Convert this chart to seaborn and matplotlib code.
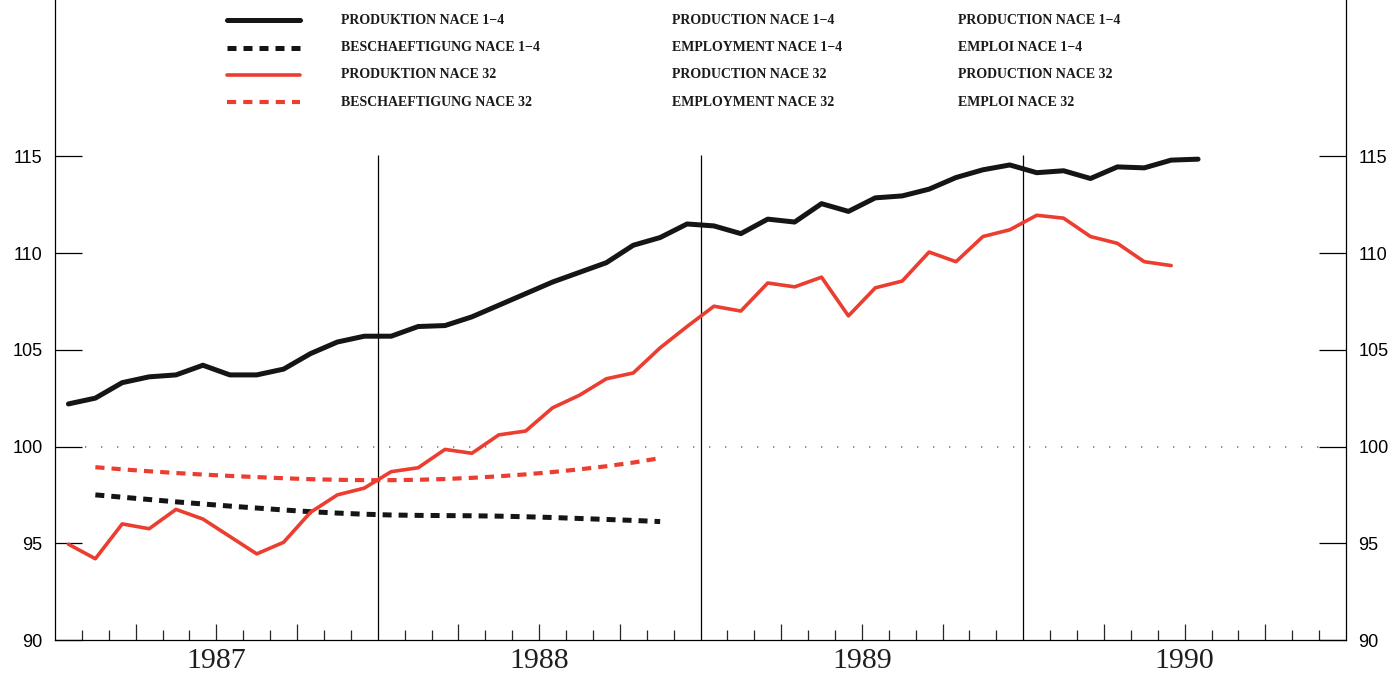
import numpy as np
import matplotlib
matplotlib.use("Agg")
import matplotlib.pyplot as plt
from matplotlib.lines import Line2D
import seaborn as sns

# ---- data: monthly indices, first value = January 1987 ----
years = [1987, 1988, 1989, 1990]

prod_nace14 = [102.2, 102.5, 103.3, 103.6, 103.7, 104.2, 103.7, 103.7, 104.0, 104.8,
               105.4, 105.7, 105.7, 106.2, 106.25, 106.7, 107.3, 107.9, 108.5, 109.0,
               109.5, 110.4, 110.8, 111.5, 111.4, 111.0, 111.75, 111.6, 112.55, 112.15,
               112.85, 112.95, 113.3, 113.9, 114.3, 114.55, 114.15, 114.25, 113.85, 114.45,
               114.4, 114.8, 114.85]

prod_nace32 = [94.95, 94.2, 96.0, 95.75, 96.75, 96.25, 95.35, 94.45, 95.05, 96.6,
               97.5, 97.85, 98.7, 98.9, 99.85, 99.65, 100.6, 100.8, 102.0, 102.65,
               103.5, 103.8, 105.1, 106.2, 107.25, 107.0, 108.45, 108.25, 108.75, 106.75,
               108.2, 108.55, 110.05, 109.55, 110.85, 111.2, 111.95, 111.8, 110.85, 110.5,
               109.55, 109.35]

# employment trend series start in February 1987
empl_start = 1
empl_nace14 = [97.5, 97.38, 97.26, 97.14, 97.03, 96.92, 96.82, 96.72, 96.63, 96.56,
               96.5, 96.46, 96.44, 96.43, 96.42, 96.4, 96.37, 96.33, 96.28, 96.23,
               96.18, 96.12]
empl_nace32 = [98.93, 98.82, 98.72, 98.63, 98.55, 98.48, 98.42, 98.36, 98.31, 98.28,
               98.26, 98.26, 98.28, 98.32, 98.38, 98.46, 98.56, 98.68, 98.82, 98.98,
               99.17, 99.4]

legend_de = ["PRODUKTION NACE 1\u22124", "BESCHAEFTIGUNG NACE 1\u22124",
             "PRODUKTION NACE 32", "BESCHAEFTIGUNG NACE 32"]
legend_en = ["PRODUCTION NACE 1\u22124", "EMPLOYMENT NACE 1\u22124",
             "PRODUCTION NACE 32", "EMPLOYMENT NACE 32"]
legend_fr = ["PRODUCTION NACE 1\u22124", "EMPLOI NACE 1\u22124",
             "PRODUCTION NACE 32", "EMPLOI NACE 32"]

y_ticks = [90, 95, 100, 105, 110, 115]

# ---- styling ----
sns.set_style("white")
plt.rcParams["font.family"] = ["Liberation Sans", "DejaVu Sans"]
plt.rcParams["lines.solid_joinstyle"] = "round"

BLACK = "#151515"
RED = "#ec3d31"

W, H, DPI = 1393, 675, 100
fig = plt.figure(figsize=(W / DPI, H / DPI), dpi=DPI)
fig.patch.set_facecolor("white")
ax = fig.add_axes([55 / W, 35 / H, 1291 / W, 640 / H])
ax.set_facecolor("white")


def month_pos(values, start=0):
    """Centre of each month on an axis measured in months from Jan 1987."""
    return np.arange(start, start + len(values)) + 0.5


series = [
    (prod_nace14, 0, dict(color=BLACK, linewidth=3.6), None),
    (empl_nace14, empl_start, dict(color=BLACK, linewidth=3.6), (1.8, 1.4)),
    (prod_nace32, 0, dict(color=RED, linewidth=2.6), None),
    (empl_nace32, empl_start, dict(color=RED, linewidth=3.0), (2.2, 1.7)),
]

for values, start, kw, dashes in series:
    sns.lineplot(x=month_pos(values, start), y=values, ax=ax, **kw)
    line = ax.lines[-1]
    if dashes is not None:
        line.set_linestyle((0, dashes))
        line.set_dash_capstyle("butt")

# reference level 100 and year separators
ax.hlines(100, 1.1, 47.0, colors="#7a7a7a", linewidth=1.2,
          linestyles=[(0, (0.8, 8.8))], zorder=1)
ax.vlines([12, 24, 36], 90, 115.05, colors="black", linewidth=0.9, zorder=1)

ax.set_xlim(0, 48)
ax.set_ylim(90, 90 + 640 / 19.35)

# y axis: labels on both sides, long inward ticks
ax.set_yticks(y_ticks)
ax.set_yticklabels([str(v) for v in y_ticks])
ax.tick_params(axis="y", which="major", direction="in", length=19.4, width=0.9,
               left=True, right=True, labelleft=True, labelright=True,
               labelsize=13, pad=9, colors="black")

# x axis: month ticks, longer quarter ticks, year names centred
quarters = [m for m in range(3, 48, 3) if m % 12 != 0]
months = [m for m in range(1, 48) if m % 3 != 0]
ax.set_xticks(quarters)
ax.set_xticks(months, minor=True)
ax.set_xticklabels([str(years[(m - 6) // 12]) if m % 12 == 6 else "" for m in quarters],
                   fontfamily="Liberation Serif", fontsize=21.5, color="#1e1e1e")
ax.tick_params(axis="x", which="major", direction="in", length=11.5, width=0.9,
               bottom=True, pad=6)
ax.tick_params(axis="x", which="minor", direction="in", length=7.5, width=0.9,
               bottom=True)

for side in ["left", "right", "bottom"]:
    ax.spines[side].set_visible(True)
    ax.spines[side].set_color("black")
    ax.spines[side].set_linewidth(0.9)
ax.spines["top"].set_visible(False)
ax.set_xlabel("")
ax.set_ylabel("")

# trilingual key above the plot
rows_y = [20, 47.5, 75, 102]
key_x0, key_x1 = 227, 300
text_cols = [(341, legend_de), (672, legend_en), (958, legend_fr)]
for i, (values, start, kw, dashes) in enumerate(series):
    yf = 1 - rows_y[i] / H
    key = Line2D([key_x0 / W, key_x1 / W], [yf, yf], transform=fig.transFigure,
                 color=kw["color"], linewidth=kw["linewidth"])
    if dashes is not None:
        key.set_linestyle((0, dashes))
        key.set_dash_capstyle("butt")
    fig.add_artist(key)
    for x, labels in text_cols:
        fig.text(x / W, yf, labels[i], ha="left", va="center",
                 fontfamily="Liberation Serif", fontweight="bold", fontsize=10,
                 color="#1a1a1a")

fig.savefig("out.png", dpi=DPI, facecolor="white")
